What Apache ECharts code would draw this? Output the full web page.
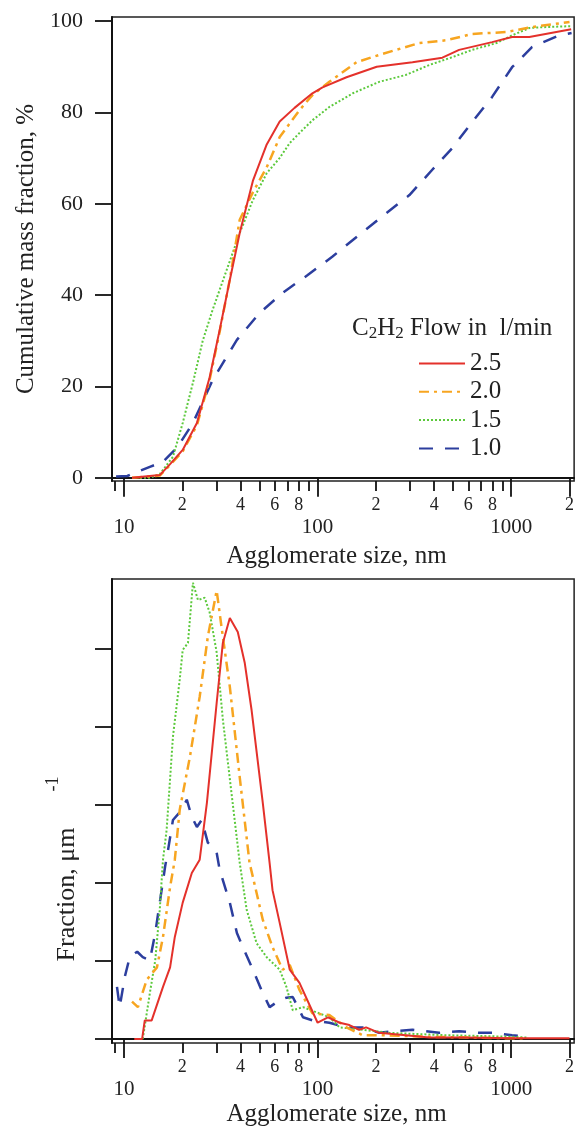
<!DOCTYPE html>
<html>
<head>
<meta charset="utf-8">
<script src="https://cdn.jsdelivr.net/npm/echarts@6/dist/echarts.min.js"></script>
<style>
html,body{margin:0;padding:0;background:#fff;}
#chart{width:577px;height:1138px;}
</style>
</head>
<body>
<div id="chart"></div>
<script>
// ---------- Data (agglomerate size in nm) ----------
const seriesNames = ['2.5', '2.0', '1.5', '1.0'];

// Cumulative mass fraction, %
const cumX_25 = [11, 15.3, 17.3, 20.1, 23.8, 27.7, 31.2, 35.2, 39.6, 46.3, 54.6, 63.7, 76, 94, 106, 141, 202, 309, 441, 538, 797, 1010, 1240, 2040];
const cumY_25 = [0, 0.6, 3, 6.1, 12, 22, 32.4, 43.3, 53.6, 65, 73, 78, 81, 84.2, 85.5, 87.7, 90, 91, 92, 93.7, 95.4, 96.5, 96.5, 98.2];

const cumX_20 = [11, 15.3, 17.3, 20.1, 23.8, 27.7, 31.2, 35.2, 39.6, 46.3, 54.6, 63.7, 80.6, 94, 115, 159, 208, 335, 461, 630, 940, 1280, 2000];
const cumY_20 = [0, 0.5, 2.8, 5.8, 11.5, 21.5, 32, 43.5, 56.5, 62.5, 68, 74.6, 80.5, 83.8, 86.7, 91, 92.6, 95.2, 95.8, 97.2, 97.6, 98.7, 99.8];

const cumX_15 = [12.1, 13.6, 15.3, 17.9, 20.1, 22.7, 25.5, 28.7, 33.9, 39.6, 46.3, 54.6, 63.6, 71.8, 80.6, 94.1, 115, 152, 208, 285, 378, 496, 628, 840, 1013, 1242, 1517, 2050];
const cumY_15 = [0, 0, 0.8, 4.6, 12, 20.8, 30, 36.8, 45.5, 53.6, 60.8, 66.7, 70, 73.3, 75.5, 78.3, 81.2, 84.2, 86.7, 88.2, 90.4, 92.1, 93.7, 95.2, 96.9, 98.5, 98.7, 98.9];

const cumX_10 = [9.1, 10.4, 13.6, 15.9, 18.8, 22.7, 28.7, 38.3, 50.2, 66, 88.9, 119, 164, 227, 298, 390, 496, 628, 797, 1010, 1280, 1770, 2050];
const cumY_10 = [0.3, 0.4, 2.4, 3.5, 6.6, 12, 21.4, 30.2, 36.1, 40.5, 44.4, 48.4, 53.2, 58, 61.9, 67.4, 72.2, 77.9, 83.4, 89.9, 94.3, 96.9, 97.4];

// Fraction, µm^-1 (arbitrary units)
const frX_25 = [11.3, 12.4, 12.8, 13.9, 15.9, 17.3, 18.3, 20.1, 22.4, 24.6, 26.8, 30.1, 32.4, 35.2, 38.7, 42, 45.6, 52.1, 56.5, 58.5, 63.7, 71.8, 80.6, 100, 113, 130, 146, 164, 178, 208, 285, 378, 558, 1010, 2000];
const frY_25 = [0, 0, 0.24, 0.24, 0.67, 0.92, 1.31, 1.75, 2.13, 2.3, 3.03, 4.31, 5.08, 5.40, 5.22, 4.83, 4.22, 3.03, 2.26, 1.91, 1.49, 0.89, 0.72, 0.21, 0.28, 0.21, 0.18, 0.12, 0.15, 0.08, 0.05, 0.02, 0.02, 0.01, 0.01];

const frX_20 = [11, 11.8, 13.1, 14.8, 15.9, 17.3, 18.3, 19.4, 21.9, 24.6, 27.1, 30.1, 32.4, 35.2, 39.6, 44.5, 46.3, 52.1, 58.5, 66, 71.8, 80.6, 94, 115, 141, 171, 208, 378, 1010, 1200];
const frY_20 = [0.48, 0.41, 0.76, 0.92, 1.31, 1.95, 2.3, 2.94, 3.62, 4.39, 5.16, 5.75, 5.16, 4.52, 3.36, 2.26, 2.08, 1.53, 1.18, 0.89, 0.95, 0.63, 0.33, 0.31, 0.15, 0.05, 0.05, 0.03, 0.01, 0.01];

const frX_15 = [12.5, 13.6, 14.5, 15.3, 15.9, 16.6, 17.9, 19.4, 20.1, 21.4, 22.7, 24.1, 26.1, 27.7, 30.1, 32.4, 36.4, 39.6, 43, 48.4, 54.6, 63.7, 69, 74.4, 84, 102, 115, 130, 171, 235, 461, 1010, 1200];
const frY_15 = [0, 0.59, 1.01, 1.66, 2.3, 2.68, 3.88, 4.61, 4.99, 5.08, 5.85, 5.63, 5.66, 5.47, 4.96, 4.1, 3.03, 2.26, 1.66, 1.23, 1.05, 0.89, 0.67, 0.37, 0.41, 0.33, 0.28, 0.15, 0.12, 0.08, 0.05, 0.03, 0.02];

const frX_10 = [9.2, 9.5, 10.1, 10.7, 11.7, 12.5, 13.6, 14.5, 15.3, 16.3, 16.9, 17.9, 19.9, 21.1, 22.4, 23.8, 25.2, 27.1, 28.7, 30.1, 31.2, 35.2, 38.3, 41.1, 46.3, 52.1, 56.5, 63.7, 69, 74.4, 84, 94, 115, 141, 171, 208, 243, 309, 424, 538, 683, 797, 1010, 1190];
const frY_10 = [0.67, 0.41, 0.8, 1.05, 1.12, 1.05, 1.01, 1.36, 1.75, 2.21, 2.43, 2.81, 2.94, 3.07, 2.85, 2.72, 2.81, 2.52, 2.46, 2.39, 2.17, 1.75, 1.36, 1.18, 0.89, 0.59, 0.41, 0.5, 0.53, 0.54, 0.28, 0.24, 0.21, 0.15, 0.15, 0.08, 0.1, 0.12, 0.08, 0.1, 0.08, 0.08, 0.05, 0.03];

// Tick values / labels
const xMajorTicks = [10, 100, 1000, 2000];
const xMinorTicks = [9, 20, 30, 40, 50, 60, 70, 80, 90, 200, 300, 400, 500, 600, 700, 800, 900];
const xDecadeLabels = [10, 100, 1000];
const xDigitLabels = [20, 40, 60, 80, 200, 400, 600, 800, 2000];
const yTopTicks = [0, 20, 40, 60, 80, 100];
const yBottomTicks = [0, 1, 2, 3, 4, 5];

// ---------- Styles ----------
const FONT = 'Liberation Serif';
const TITLE_SIZE = 25;
const colors = {'2.5': '#e4312b', '2.0': '#f7a520', '1.5': '#5cc93c', '1.0': '#2c3e9e'};
const lineStyles = {
  '2.5': {width: 2, type: 'solid'},
  '2.0': {width: 2.5, type: [10, 5, 3, 5]},
  '1.5': {width: 2, type: [2, 2]},
  '1.0': {width: 2.5, type: [14, 12]}
};
const zip = (xs, ys) => xs.map((x, i) => [x, ys[i]]);
const XMIN = 8.67, XMAX = 2113;

function xAxesFor(gi) {
  return [
    {
      type: 'log', logBase: 10, gridIndex: gi, min: XMIN, max: XMAX, position: 'bottom',
      axisLine: {show: true, lineStyle: {color: '#111', width: 2}},
      axisTick: {show: true, customValues: xMajorTicks, length: 19, lineStyle: {color: '#111', width: 1.8}},
      axisLabel: {show: true, customValues: xDecadeLabels, margin: 36, fontFamily: FONT, fontSize: 21, color: '#222',
        formatter: v => String(Math.round(v))},
      splitLine: {show: false}, minorTick: {show: false},
      name: 'Agglomerate size, nm', nameLocation: 'middle', nameGap: gi === 0 ? 63 : 59,
      nameTextStyle: {fontFamily: FONT, fontSize: TITLE_SIZE, color: '#222', padding: [0, 13, 0, 0]}
    },
    {
      type: 'log', logBase: 10, gridIndex: gi, min: XMIN, max: XMAX, position: 'bottom',
      axisLine: {show: false},
      axisTick: {show: true, customValues: xMinorTicks, length: 10, lineStyle: {color: '#111', width: 1.8}},
      axisLabel: {show: true, customValues: xDigitLabels, margin: 15, fontFamily: FONT, fontSize: 18, color: '#222',
        formatter: v => String(Math.round(v)).charAt(0)},
      splitLine: {show: false}
    }
  ];
}

const option = {
  animation: false,
  backgroundColor: '#fff',
  title: {
    text: 'C{sub|2}H{sub|2} Flow in  l/min',
    left: 347, top: 309,
    textStyle: {
      fontFamily: FONT, fontSize: TITLE_SIZE, fontWeight: 'normal', color: '#222',
      rich: {sub: {fontFamily: FONT, fontSize: 17, color: '#222', padding: [11, 0, 0, 0]}}
    }
  },
  legend: {
    data: seriesNames,
    orient: 'vertical',
    left: 413, top: 346,
    itemWidth: 46, itemHeight: 25, itemGap: 3.3,
    itemStyle: {opacity: 0},
    textStyle: {fontFamily: FONT, fontSize: TITLE_SIZE, color: '#222', padding: [0, 0, 0, 0]}
  },
  grid: [
    {left: 112, right: 2, top: 17, height: 464, show: true, borderColor: '#222', borderWidth: 1.5, backgroundColor: 'transparent'},
    {left: 112, right: 2, top: 579, height: 464, show: true, borderColor: '#222', borderWidth: 1.5, backgroundColor: 'transparent'}
  ],
  xAxis: [...xAxesFor(0), ...xAxesFor(1)],
  yAxis: [
    {
      type: 'value', gridIndex: 0, min: -0.7, max: 100.9,
      axisLine: {show: true, lineStyle: {color: '#111', width: 2}},
      axisTick: {show: true, customValues: yTopTicks, length: 17, lineStyle: {color: '#111', width: 1.8}},
      axisLabel: {show: true, customValues: yTopTicks, margin: 29, fontFamily: FONT, fontSize: 22, color: '#222'},
      splitLine: {show: false},
      name: 'Cumulative mass fraction, %', nameLocation: 'middle', nameGap: 69,
      nameTextStyle: {fontFamily: FONT, fontSize: TITLE_SIZE, color: '#222'}
    },
    {
      type: 'value', gridIndex: 1, min: -0.05, max: 5.9,
      axisLine: {show: true, lineStyle: {color: '#111', width: 2}},
      axisTick: {show: true, customValues: yBottomTicks, length: 17, lineStyle: {color: '#111', width: 1.8}},
      axisLabel: {show: false},
      splitLine: {show: false},
      name: 'Fraction, μm{sup|-1}', nameLocation: 'middle', nameGap: 22,
      nameTextStyle: {fontFamily: FONT, fontSize: 26, color: '#222',
        rich: {sup: {fontFamily: FONT, fontSize: 18, color: '#222', padding: [0, 116, 28, 36]}}}
    }
  ],
  series: []
};

const cumData = {'2.5': zip(cumX_25, cumY_25), '2.0': zip(cumX_20, cumY_20), '1.5': zip(cumX_15, cumY_15), '1.0': zip(cumX_10, cumY_10)};
const frData = {'2.5': zip(frX_25, frY_25), '2.0': zip(frX_20, frY_20), '1.5': zip(frX_15, frY_15), '1.0': zip(frX_10, frY_10)};
const drawOrder = ['1.0', '1.5', '2.0', '2.5'];
drawOrder.forEach((n, k) => {
  option.series.push({
    name: n, type: 'line', xAxisIndex: 0, yAxisIndex: 0, data: cumData[n], symbol: 'none',
    smooth: false, color: colors[n], lineStyle: Object.assign({color: colors[n]}, lineStyles[n]), z: 2 + k
  });
  option.series.push({
    name: n, type: 'line', xAxisIndex: 2, yAxisIndex: 1, data: frData[n], symbol: 'none',
    smooth: false, color: colors[n], lineStyle: Object.assign({color: colors[n]}, lineStyles[n]), z: 2 + k
  });
});

const chart = echarts.init(document.getElementById('chart'), null, {renderer: 'canvas'});
chart.setOption(option);
</script>
</body>
</html>
